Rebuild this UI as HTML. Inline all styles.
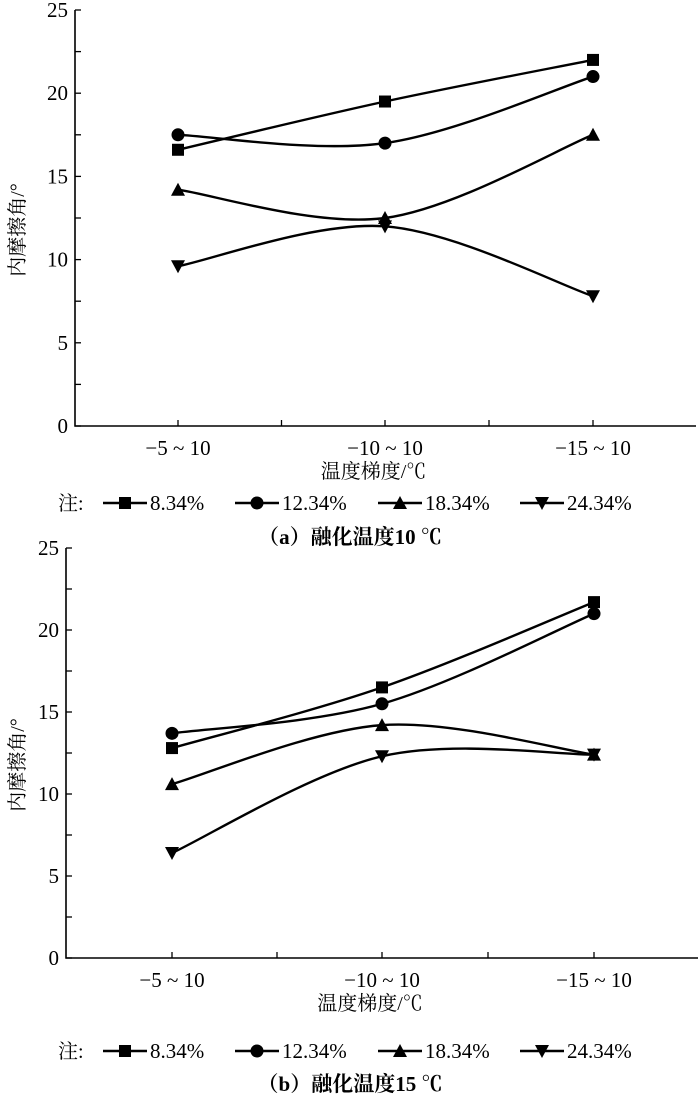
<!DOCTYPE html>
<html><head><meta charset="utf-8">
<style>
html,body{margin:0;padding:0;background:#fff;}
svg{display:block;}
text{font-family:"Liberation Serif","Noto Serif CJK SC",serif;fill:#000;}
</style></head>
<body>
<svg id="chart" width="700" height="1101" viewBox="0 0 700 1101" xmlns="http://www.w3.org/2000/svg"></svg>
<script>
const categories = ["−5 ~ 10", "−10 ~ 10", "−15 ~ 10"];
const seriesNames = ["8.34%", "12.34%", "18.34%", "24.34%"];
const yTicks = [0, 5, 10, 15, 20, 25];
const a_s1 = [16.6, 19.5, 22.0];
const a_s2 = [17.5, 17.0, 21.0];
const a_s3 = [14.2, 12.5, 17.5];
const a_s4 = [9.6, 12.0, 7.8];
const b_s1 = [12.8, 16.5, 21.7];
const b_s2 = [13.7, 15.5, 21.0];
const b_s3 = [10.6, 14.2, 12.4];
const b_s4 = [6.4, 12.3, 12.4];
const markers = ["square", "circle", "up", "down"];

const NS = "http://www.w3.org/2000/svg";
const svg = document.getElementById("chart");
function mk(tag, attrs, parent) {
  const e = document.createElementNS(NS, tag);
  for (const k in attrs) e.setAttribute(k, attrs[k]);
  (parent || svg).appendChild(e);
  return e;
}
function txt(x, y, s, size, anchor, parent, weight) {
  const t = mk("text", {x: x, y: y, "font-size": size, "text-anchor": anchor || "middle"}, parent);
  if (weight) t.setAttribute("font-weight", weight);
  t.textContent = s;
  return t;
}
function marker(g, type, x, y) {
  let m;
  if (type === "square") m = mk("rect", {x: x - 6, y: y - 6, width: 12, height: 12, fill: "#000"}, g);
  else if (type === "circle") m = mk("circle", {cx: x, cy: y, r: 6.5, fill: "#000"}, g);
  else if (type === "up") m = mk("polygon", {points: `${x},${y - 7} ${x - 7},${y + 6} ${x + 7},${y + 6}`, fill: "#000"}, g);
  else m = mk("polygon", {points: `${x},${y + 7} ${x - 7},${y - 6} ${x + 7},${y - 6}`, fill: "#000"}, g);
  return m;
}
function spline(pts) {
  let d = `M${pts[0][0]},${pts[0][1]}`;
  for (let i = 0; i < pts.length - 1; i++) {
    const p0 = pts[Math.max(i - 1, 0)], p1 = pts[i], p2 = pts[i + 1], p3 = pts[Math.min(i + 2, pts.length - 1)];
    const c1x = p1[0] + (p2[0] - p0[0]) / 6, c1y = p1[1] + (p2[1] - p0[1]) / 6;
    const c2x = p2[0] - (p3[0] - p1[0]) / 6, c2y = p2[1] - (p3[1] - p1[1]) / 6;
    d += ` C${c1x},${c1y} ${c2x},${c2y} ${p2[0]},${p2[1]}`;
  }
  return d;
}

function panel(cfg, seriesList, name, caption) {
  const g = mk("g", {});
  
  
  const yS = v => cfg.y0 + (cfg.y25 - cfg.y0) * v / 25;
  const xS = i => cfg.cx[i];
  const ax = mk("path", {d: `M${cfg.ax},${cfg.y25} V${cfg.y0} H${cfg.right}`, stroke: "#000", "stroke-width": 1.6, fill: "none"}, g);
  
  
  for (let v = 0; v <= 25; v += 2.5) {
    mk("line", {x1: cfg.ax, x2: cfg.ax + 6, y1: yS(v), y2: yS(v), stroke: "#000", "stroke-width": 1.3}, g);
  }
  yTicks.forEach(v => {
    const t = txt(cfg.ax - 7, yS(v) + 7, String(v), 21, "end", g);
    
    
  });
  const xt = [cfg.cx[0], (cfg.cx[0] + cfg.cx[1]) / 2, cfg.cx[1], (cfg.cx[1] + cfg.cx[2]) / 2, cfg.cx[2]];
  xt.forEach(x => mk("line", {x1: x, x2: x, y1: cfg.y0, y2: cfg.y0 - 6, stroke: "#000", "stroke-width": 1.3}, g));
  categories.forEach((c, i) => {
    const t = txt(xS(i), cfg.y0 + 29, c, 21, "middle", g);
    
    
  });
  const xtitle = txt((cfg.ax + cfg.right) / 2 - 12, cfg.y0 + 52, "温度梯度/℃", 20, "middle", g);
  
  
  const ytitle = txt(0, 0, "内摩擦角/°", 20, "middle", g);
  ytitle.setAttribute("transform", `translate(24,${(cfg.y0 + cfg.y25) / 2 + 12}) rotate(-90)`);
  
  
  seriesList.forEach((vals, si) => {
    const pts = vals.map((v, i) => [xS(i), yS(v)]);
    const sg = mk("g", {}, g);
    
    
    mk("path", {d: spline(pts), stroke: "#000", "stroke-width": 2.4, fill: "none"}, sg);
    pts.forEach(p => {
      const m = marker(sg, markers[si], p[0], p[1]);
      
      
    });
  });
  const lg = mk("g", {}, g);
  
  
  const ly = cfg.legendY;
  txt(58, ly + 7, "注:", 20, "start", lg);
  const lx = [103, 235, 378, 520];
  seriesNames.forEach((s, i) => {
    const e = mk("g", {}, lg);
    
    
    mk("line", {x1: lx[i], x2: lx[i] + 44, y1: ly, y2: ly, stroke: "#000", "stroke-width": 2.4}, e);
    marker(e, markers[i], lx[i] + 22, ly);
    txt(lx[i] + 47, ly + 7, s, 21, "start", e);
  });
  const cap = txt(350, cfg.capY, caption, 21, "middle", g, "bold");
  
  
}

panel({ax: 75, right: 696, y25: 10, y0: 426, cx: [178, 385, 593], legendY: 503, capY: 544},
  [a_s1, a_s2, a_s3, a_s4], "chart-a", "（a）融化温度10 ℃");
panel({ax: 66, right: 698, y25: 548, y0: 958, cx: [172, 382, 594], legendY: 1051, capY: 1091},
  [b_s1, b_s2, b_s3, b_s4], "chart-b", "（b）融化温度15 ℃");
</script>
</body></html>
